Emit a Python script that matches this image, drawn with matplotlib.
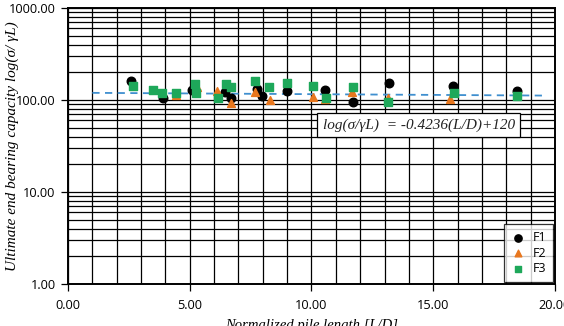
import matplotlib
matplotlib.use("Agg")
import matplotlib.pyplot as plt
import numpy as np
from matplotlib.ticker import FixedLocator, LogLocator, NullFormatter, FormatStrFormatter

f1_x = [2.6, 3.9, 5.1, 6.45, 6.7, 7.75, 7.95, 9.0, 10.55, 11.7, 13.2, 15.8, 18.45]
f1_y = [160, 104, 128, 121, 104, 132, 111, 126, 128, 96, 154, 143, 126]

f2_x = [4.45, 5.3, 6.1, 6.7, 7.7, 8.3, 10.05, 10.55, 11.65, 13.15, 15.7]
f2_y = [113, 137, 126, 92, 123, 100, 108, 102, 123, 104, 102]

f3_x = [2.65, 3.5, 3.85, 4.45, 5.2, 5.25, 6.15, 6.5, 6.7, 7.7, 8.25, 9.0,
        10.05, 10.6, 11.7, 13.15, 15.85, 18.45]
f3_y = [143, 128, 120, 118, 150, 120, 106, 150, 137, 161, 137, 154,
        142, 104, 140, 96, 118, 111]

# trend line: log(s/yL) = -0.4236(L/D)+120
trend_slope = -0.4236
trend_icpt = 120
trend_range = [1.0, 19.5]

serif = ["Liberation Serif", "DejaVu Serif"]
sans = ["Open Sans", "DejaVu Sans"]

fig = plt.figure(figsize=(5.64, 3.26), dpi=100)
ax = fig.add_axes([0.1206, 0.1288, 0.984 - 0.1206, 0.9755 - 0.1288])
ax.set_yscale("log")
ax.set_xlim(0, 20)
ax.set_ylim(1, 1000)

# grid
ax.xaxis.set_major_locator(FixedLocator([0, 5, 10, 15, 20]))
ax.xaxis.set_minor_locator(FixedLocator(np.arange(0, 21, 1)))
ax.yaxis.set_major_locator(FixedLocator([1, 10, 100, 1000]))
ax.yaxis.set_minor_locator(LogLocator(base=10, subs=np.arange(2, 10)))
ax.yaxis.set_minor_formatter(NullFormatter())
ax.xaxis.set_major_formatter(FormatStrFormatter("%.2f"))
ax.yaxis.set_major_formatter(FormatStrFormatter("%.2f"))
ax.grid(True, which="both", color="black", linewidth=0.9)
ax.set_axisbelow(True)

ax.tick_params(which="minor", length=0)
ax.tick_params(which="major", length=5, width=0.9, direction="out",
               labelsize=9.2)
ax.tick_params(axis="y", pad=4)
ax.tick_params(axis="x", pad=6)
for lab in ax.get_xticklabels() + ax.get_yticklabels():
    lab.set_family(sans)
for s in ax.spines.values():
    s.set_linewidth(1.4)
    s.set_color("black")

tx = np.array(trend_range)
ax.plot(tx, trend_slope * tx + trend_icpt, linestyle=(0, (4, 3)),
        color="#3f8fcf", linewidth=1.3, zorder=2)

ax.scatter(f1_x, f1_y, marker="o", s=38, color="black", label="F1", zorder=3)
ax.scatter(f2_x, f2_y, marker="^", s=32, color="#e8771e", label="F2", zorder=3)
ax.scatter(f3_x, f3_y, marker="s", s=34, color="#1ea85a", label="F3", zorder=3)

ax.text(14.4, 53, "log(σ/γL)  = -0.4236(L/D)+120", family=serif, style="italic",
        fontsize=11, ha="center", va="center", color="#222222", zorder=4,
        bbox=dict(boxstyle="square,pad=0.35", facecolor="white",
                  edgecolor="black", linewidth=0.9))

leg = ax.legend(loc="lower right", prop={"family": sans, "size": 9},
                frameon=True, fancybox=False, edgecolor="black",
                borderaxespad=0.15, handletextpad=0.7, labelspacing=0.2,
                handlelength=1.0, borderpad=0.55, markerscale=0.85)
leg.get_frame().set_linewidth(0.9)

ax.set_ylabel("Ultimate end bearing capacity log(σ/ γL)", family=serif,
              style="italic", fontsize=11)
ax.yaxis.set_label_coords(-0.10, 0.5)
ax.set_xlabel("Normalized pile length [L/D]", family=serif, style="italic",
              fontsize=10.5, labelpad=5)

fig.savefig("out.png", dpi=100)
